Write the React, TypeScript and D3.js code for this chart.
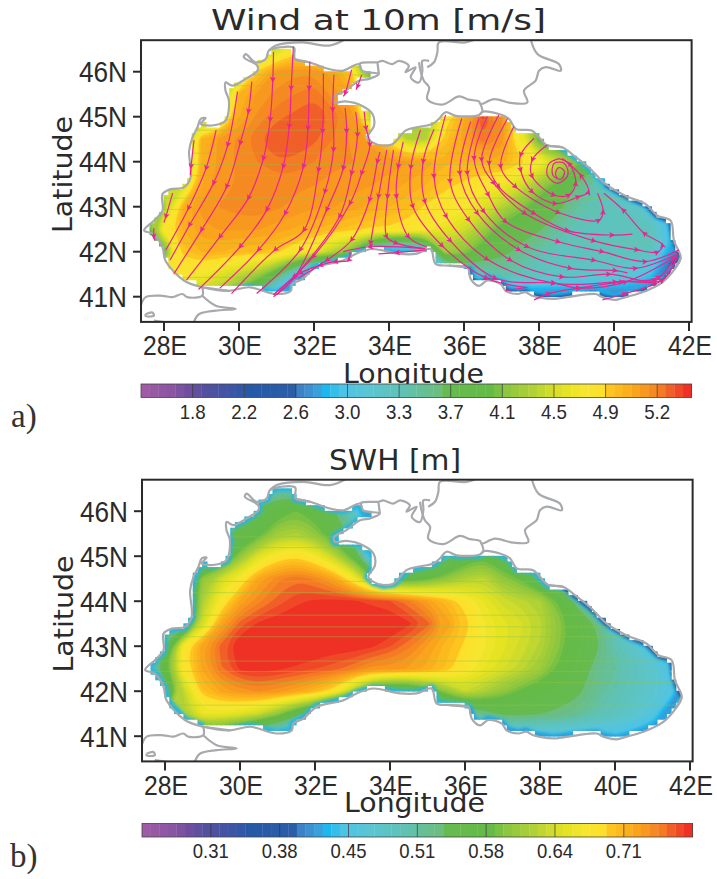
import React from 'react'
import * as d3 from 'd3'

// ---- colour bars ----
const paletteStops: [number, string][] = [
  [0, '#9f5ba5'], [3, '#8a55a3'], [5, '#6f4e9f'], [7, '#5350a0'], [10, '#3d55a5'], [12, '#2558a6'],
  [17, '#2a5ea9'], [18, '#3b82c6'], [20, '#3aa0dc'], [21, '#1cb8ee'], [23, '#4dc4e6'], [26, '#5bc5d2'],
  [30, '#5fc2b4'], [34, '#6bbd80'], [35, '#66bb50'], [40, '#65bb46'], [42, '#8dc63f'], [45, '#b0d236'],
  [47, '#d0dc2c'], [49, '#e6e322'], [51, '#f6e62f'], [53, '#fde02a'], [54, '#fec420'], [56, '#fbaf1c'],
  [58, '#f8981f'], [60, '#f47b24'], [61, '#f15f29'], [63, '#ee3124']
]
const levelCount = 64
const windBarLabels = ['1.8', '2.2', '2.6', '3.0', '3.3', '3.7', '4.1', '4.5', '4.9', '5.2']
const windBarCells = [6, 12, 18, 24, 30, 36, 42, 48, 54, 60]
const swhBarLabels = ['0.31', '0.38', '0.45', '0.51', '0.58', '0.64', '0.71']
const swhBarCells = [8, 16, 24, 32, 40, 48, 56]

// ---- axes ----
const lonTicks = [28, 30, 32, 34, 36, 38, 40, 42]
const latTicks = [46, 45, 44, 43, 42, 41]

// ---- coast sections, lon/lat, running clockwise round the sea ----
const westCoast = [
  [29.02, 41.21], [28.53, 41.36], [28.04, 41.8], [27.96, 42.1], [27.73, 42.39], [27.47, 42.47], [27.73, 42.69],
  [27.96, 42.91], [27.96, 43.28], [28.18, 43.39], [28.53, 43.43], [28.71, 43.65], [28.67, 44.24], [28.76, 44.54],
  [28.89, 44.76], [28.98, 44.95], [29.11, 44.97], [28.98, 44.84], [29.33, 44.81], [29.64, 44.91], [29.73, 45.36],
  [29.64, 45.58], [29.64, 45.76], [29.82, 45.69], [30.18, 45.84], [30.49, 46.02], [30.49, 46.13], [30.13, 46.32],
  [30.18, 46.39], [30.44, 46.21], [30.71, 46.28], [30.8, 46.47], [31.07, 46.54], [31.47, 46.53], [31.48, 46.28]
]
const crimeaCoast = [
  [31.87, 46.21], [32.4, 46.06], [32.76, 46.02], [33.2, 46.17], [33.29, 46.02], [33.73, 45.95], [33.47, 45.84],
  [33.2, 45.8], [32.84, 45.58], [32.51, 45.43], [32.53, 45.32], [32.84, 45.34], [33.29, 45.24], [33.56, 45.06],
  [33.6, 44.8], [33.42, 44.54], [33.56, 44.43], [33.82, 44.36], [34.09, 44.39], [34.44, 44.69], [34.71, 44.76],
  [35.16, 44.84], [35.33, 44.95], [35.51, 45.1], [35.78, 45.02], [36.4, 45.04]
]
const tamanCoast = [
  [36.49, 45.11], [36.93, 45.06], [37.2, 44.95], [37.38, 44.73], [37.82, 44.69], [38, 44.54], [38.22, 44.36]
]
const caucasusCoast = [
  [38.62, 44.32], [38.98, 44.1], [39.33, 43.87], [39.78, 43.5], [40.31, 43.24], [40.84, 43.06], [41.16, 42.8],
  [41.51, 42.69], [41.6, 42.24], [41.78, 41.87]
]
const pontusEastCoast = [
  [41.64, 41.64], [41.29, 41.32], [40.76, 41.1], [40.31, 40.99], [40.04, 40.93], [39.69, 40.99], [39.51, 41.06],
  [38.98, 41.02], [38.36, 40.95], [37.82, 41.02], [37.64, 41.1], [37.42, 41.06], [37.11, 41.13], [36.98, 41.28],
  [36.62, 41.36], [36.4, 41.24], [36.18, 41.39], [36.09, 41.65]
]
const pontusWestCoast = [
  [35.6, 41.69], [35.24, 41.73], [35.11, 42.06], [34.71, 41.95], [34.27, 41.95], [33.56, 42.06], [33.11, 41.95],
  [32.76, 41.8], [32.04, 41.65], [31.69, 41.39], [31.42, 41.28], [31.38, 41.13], [30.98, 41.06], [30.27, 41.21],
  [29.73, 41.13]
]
const seaOutline = [...westCoast, ...crimeaCoast, ...tamanCoast, ...caucasusCoast, ...pontusEastCoast, ...pontusWestCoast]

// land that is not on the Black Sea itself
const landLines = [
  [[27.38, 40.8], [27.51, 40.99], [27.96, 41.02], [28.22, 40.99], [28.49, 41.06], [28.62, 40.99], [29.02, 41.02], [29.02, 41.21]],
  [[29.02, 41.02], [29.38, 40.8], [29.91, 40.73], [29.38, 40.69], [28.93, 40.61], [28.8, 40.44]],
  [[27.51, 40.61], [27.69, 40.65], [27.73, 40.58], [27.51, 40.57], [27.51, 40.61]],
  [[27.73, 40.47], [28.04, 40.43]],
  [[30.8, 46.47], [30.98, 46.58], [31.69, 46.65], [32.4, 46.58], [32.84, 46.72]],
  [[31.48, 46.28], [31.87, 46.21]],
  [[33.2, 46.17], [33.29, 46.2], [33.69, 46.21], [33.82, 46.24], [34.09, 46.17], [34.27, 46.24], [34.53, 46.13], [34.44, 45.99], [34.71, 46.1], [34.58, 45.87], [34.8, 45.76], [34.89, 46.02], [34.89, 46.24], [35.07, 46.24]],
  [[33.73, 45.95], [33.69, 46.21]],
  [[34.8, 46.21], [34.84, 46.02], [34.93, 45.8], [35.07, 45.65], [35.02, 45.39], [35.42, 45.27], [35.87, 45.45], [36.13, 45.38], [36.4, 45.34], [36.44, 45.28], [36.8, 45.39], [37.29, 45.3], [37.69, 45.32], [37.6, 45.58], [37.91, 45.8], [38, 46.02], [38.18, 46.1], [38.58, 46.02], [38.53, 46.17], [37.96, 46.39], [37.78, 46.72]],
  [[35.02, 46.1], [35.2, 46.21], [35.29, 46.43], [35.33, 46.65], [36.04, 46.65], [36.31, 46.72]],
  [[36.44, 45.28], [36.49, 45.11], [36.4, 45.04]],
  [[38.22, 44.36], [38.62, 44.32]],
  [[41.78, 41.87], [41.64, 41.64]],
  [[36.09, 41.65], [35.6, 41.69]],
  [[29.73, 41.13], [29.02, 41.21]]
]

// ---- fields, rows from 46.5N down to 40.5N, columns 27.5E to 42E every half degree ----
const windRows = [
  [3.8, 3.8, 3.8, 3.8, 3.9, 4.0, 4.2, 4.4, 4.75, 4.4, 4.2, 4.0, 3.9, 3.8, 3.8, 3.8, 3.8, 3.8, 3.8, 3.8, 3.8, 3.8, 3.8, 3.8, 3.8, 3.8, 3.8, 3.8, 3.8, 3.8],
  [4.2, 4.2, 4.2, 4.2, 4.2, 4.3, 4.85, 5.1, 5.12, 5.12, 5.05, 4.85, 3.9, 3.7, 3.7, 3.7, 3.7, 3.7, 3.7, 3.7, 3.7, 3.7, 3.7, 3.7, 3.7, 3.7, 3.7, 3.7, 3.7, 3.7],
  [4.2, 4.2, 4.2, 4.2, 4.2, 4.95, 5.1, 5.15, 5.2, 5.25, 5.1, 5.0, 4.4, 4.2, 4.2, 4.2, 4.2, 4.2, 4.2, 4.2, 4.2, 4.2, 4.2, 4.2, 4.2, 4.2, 4.2, 4.2, 4.2, 4.2],
  [4.3, 4.3, 4.3, 4.3, 4.4, 5.0, 5.15, 5.25, 5.28, 5.32, 5.25, 5.12, 4.3, 4.2, 4.2, 4.2, 4.75, 5.0, 5.35, 5.15, 4.6, 4.0, 3.6, 3.4, 3.3, 3.3, 3.3, 3.3, 3.3, 3.3],
  [4.2, 4.2, 4.2, 4.95, 5.1, 5.15, 5.26, 5.3, 5.3, 5.28, 5.2, 5.12, 5.05, 4.75, 4.3, 4.3, 4.85, 5.05, 5.25, 5.12, 4.6, 3.9, 3.6, 3.3, 3.1, 3.0, 3.0, 3.0, 3.0, 3.0],
  [4.0, 4.0, 4.0, 4.95, 5.1, 5.15, 5.2, 5.26, 5.25, 5.2, 5.15, 5.14, 5.12, 5.1, 5.08, 5.05, 4.95, 4.95, 4.95, 5.0, 4.85, 4.7, 4.4, 4.1, 3.8, 3.1, 3.0, 3.0, 3.0, 3.0],
  [4.4, 4.4, 4.4, 5.0, 5.12, 5.14, 5.15, 5.15, 5.15, 5.14, 5.12, 5.1, 5.08, 5.05, 5.0, 4.95, 4.85, 4.8, 4.7, 4.62, 4.45, 4.2, 3.95, 3.6, 3.35, 3.0, 2.8, 2.8, 2.8, 2.8],
  [4.2, 4.2, 4.95, 5.1, 5.14, 5.17, 5.18, 5.15, 5.12, 5.08, 5.08, 5.04, 5.0, 4.95, 4.9, 4.8, 4.75, 4.68, 4.5, 4.3, 4.1, 3.85, 3.7, 3.45, 3.35, 3.3, 3.2, 3.0, 2.8, 2.8],
  [3.8, 4.7, 4.95, 5.05, 5.08, 5.08, 5.08, 5.04, 5.0, 4.95, 4.9, 4.85, 4.8, 4.8, 4.75, 4.68, 4.55, 4.42, 4.2, 3.9, 3.75, 3.65, 3.45, 3.3, 3.3, 3.3, 3.3, 3.3, 2.9, 2.7],
  [3.9, 3.9, 4.85, 4.95, 4.95, 4.9, 4.9, 4.85, 4.7, 4.55, 4.3, 4.0, 3.1, 2.7, 2.7, 3.0, 4.2, 4.1, 3.85, 3.7, 3.55, 3.4, 3.3, 3.3, 3.3, 3.3, 3.3, 3.25, 2.7, 2.5],
  [4.7, 4.7, 4.7, 4.65, 4.5, 4.35, 4.2, 3.8, 3.0, 2.4, 2.3, 2.3, 2.3, 2.3, 2.3, 2.6, 3.0, 3.2, 3.3, 3.4, 3.35, 3.25, 3.2, 3.2, 3.15, 3.1, 3.05, 2.85, 2.3, 2.2],
  [4.3, 4.3, 4.3, 4.3, 4.2, 3.9, 3.3, 2.4, 2.0, 2.0, 2.0, 2.0, 2.0, 2.0, 2.0, 2.0, 2.2, 2.3, 2.4, 2.5, 2.5, 2.5, 2.5, 2.5, 2.5, 2.5, 2.5, 2.4, 2.2, 2.0],
  [4.2, 4.2, 4.2, 4.2, 4.0, 3.5, 2.8, 2.2, 2.0, 2.0, 2.0, 2.0, 2.0, 2.0, 2.0, 2.0, 2.0, 2.0, 2.0, 2.0, 2.0, 2.0, 2.0, 2.0, 2.0, 2.0, 2.0, 2.0, 2.0, 2.0]
]
const swhRows = [
  [0.45, 0.45, 0.45, 0.45, 0.45, 0.45, 0.47, 0.5, 0.5, 0.47, 0.45, 0.4, 0.35, 0.32, 0.32, 0.32, 0.32, 0.32, 0.32, 0.32, 0.32, 0.32, 0.32, 0.32, 0.32, 0.32, 0.32, 0.32, 0.32, 0.32],
  [0.5, 0.5, 0.5, 0.5, 0.5, 0.52, 0.55, 0.57, 0.585, 0.57, 0.54, 0.48, 0.35, 0.32, 0.32, 0.32, 0.32, 0.32, 0.32, 0.32, 0.32, 0.32, 0.32, 0.32, 0.32, 0.32, 0.32, 0.32, 0.32, 0.32],
  [0.5, 0.5, 0.5, 0.5, 0.52, 0.55, 0.575, 0.61, 0.62, 0.6, 0.56, 0.52, 0.42, 0.36, 0.34, 0.34, 0.34, 0.34, 0.34, 0.34, 0.34, 0.34, 0.34, 0.34, 0.34, 0.34, 0.34, 0.34, 0.34, 0.34],
  [0.5, 0.5, 0.5, 0.5, 0.53, 0.6, 0.65, 0.68, 0.69, 0.67, 0.63, 0.575, 0.42, 0.42, 0.45, 0.48, 0.52, 0.56, 0.58, 0.55, 0.5, 0.45, 0.42, 0.4, 0.4, 0.4, 0.4, 0.4, 0.4, 0.4],
  [0.52, 0.52, 0.52, 0.6, 0.64, 0.675, 0.72, 0.74, 0.75, 0.74, 0.72, 0.675, 0.6, 0.57, 0.56, 0.58, 0.6, 0.62, 0.63, 0.6, 0.58, 0.54, 0.5, 0.46, 0.44, 0.42, 0.42, 0.42, 0.42, 0.42],
  [0.5, 0.5, 0.5, 0.62, 0.675, 0.72, 0.74, 0.755, 0.765, 0.77, 0.772, 0.77, 0.765, 0.76, 0.745, 0.725, 0.705, 0.685, 0.66, 0.64, 0.63, 0.62, 0.58, 0.52, 0.47, 0.44, 0.42, 0.42, 0.42, 0.42],
  [0.5, 0.5, 0.5, 0.64, 0.72, 0.755, 0.77, 0.775, 0.78, 0.78, 0.78, 0.78, 0.78, 0.78, 0.77, 0.755, 0.725, 0.7, 0.67, 0.655, 0.645, 0.63, 0.6, 0.565, 0.53, 0.47, 0.43, 0.42, 0.42, 0.42],
  [0.5, 0.54, 0.68, 0.725, 0.755, 0.78, 0.785, 0.785, 0.785, 0.78, 0.775, 0.775, 0.77, 0.76, 0.745, 0.725, 0.705, 0.69, 0.67, 0.655, 0.64, 0.625, 0.595, 0.56, 0.54, 0.5, 0.47, 0.43, 0.4, 0.4],
  [0.45, 0.58, 0.68, 0.72, 0.75, 0.77, 0.775, 0.77, 0.765, 0.76, 0.755, 0.745, 0.73, 0.73, 0.725, 0.715, 0.7, 0.68, 0.66, 0.645, 0.63, 0.61, 0.58, 0.555, 0.525, 0.51, 0.49, 0.47, 0.44, 0.38],
  [0.5, 0.5, 0.63, 0.7, 0.72, 0.73, 0.735, 0.73, 0.72, 0.705, 0.68, 0.62, 0.54, 0.52, 0.52, 0.56, 0.6, 0.635, 0.62, 0.6, 0.58, 0.565, 0.55, 0.54, 0.52, 0.5, 0.485, 0.47, 0.45, 0.35],
  [0.62, 0.62, 0.62, 0.66, 0.66, 0.65, 0.635, 0.6, 0.55, 0.5, 0.42, 0.42, 0.42, 0.42, 0.42, 0.45, 0.48, 0.5, 0.52, 0.54, 0.54, 0.535, 0.53, 0.52, 0.5, 0.49, 0.47, 0.45, 0.38, 0.35],
  [0.55, 0.55, 0.55, 0.55, 0.54, 0.5, 0.46, 0.44, 0.42, 0.42, 0.42, 0.42, 0.42, 0.42, 0.42, 0.42, 0.42, 0.43, 0.44, 0.44, 0.44, 0.44, 0.44, 0.43, 0.43, 0.43, 0.42, 0.4, 0.36, 0.34],
  [0.5, 0.5, 0.5, 0.5, 0.48, 0.45, 0.42, 0.4, 0.4, 0.4, 0.4, 0.4, 0.4, 0.4, 0.4, 0.4, 0.4, 0.4, 0.4, 0.4, 0.4, 0.4, 0.4, 0.4, 0.38, 0.36, 0.36, 0.36, 0.34, 0.34]
]

// streamlines of the mean wind, each listed downstream
const streamlines = [
  [[30.92, 46.44], [30.9, 45.81], [30.83, 44.93], [30.65, 44.07], [30.25, 43.19], [29.49, 42.33], [28.6, 41.37]],
  [[31.45, 46.56], [31.39, 45.63], [31.34, 44.78], [31.18, 43.89], [30.74, 42.93], [30.03, 42.11], [28.92, 41.16]],
  [[31.89, 46.22], [31.87, 45.63], [31.84, 44.74], [31.72, 43.89], [31.23, 42.85], [30.52, 42.04], [29.49, 41.19]],
  [[32.25, 45.96], [32.23, 44.67], [32.12, 43.81], [31.73, 42.48], [30.96, 42.04], [29.8, 41.07]],
  [[32.53, 45.93], [32.5, 45.15], [32.52, 44.26], [32.29, 43.33], [31.63, 42.04], [30.47, 41.07]],
  [[33, 46.04], [32.83, 45.52], [32.78, 45.45]],
  [[33.27, 45.93], [33.16, 45.67], [33.12, 45.6]],
  [[32.83, 45.19], [32.87, 44.67], [32.78, 43.85], [32.34, 42.93], [31.49, 41.44], [30.92, 41]],
  [[33.11, 45.11], [33.16, 44.59], [33, 43.74], [32.68, 42.78], [31.45, 41.41], [31, 41.04]],
  [[33.34, 45.11], [33.39, 44.74], [33.49, 44.37], [33.27, 43.74], [32.96, 43.07], [31.98, 41.89], [30.92, 41.04]],
  [[30.34, 45.78], [30.25, 45.11], [30.03, 44.41], [29.67, 43.44], [29, 42.48], [28.27, 41.52]],
  [[29.96, 45.56], [29.7, 44.37], [29.32, 43.52], [28.68, 42.59], [28.16, 41.81]],
  [[29.39, 44.7], [29.12, 43.85], [28.65, 42.96], [28.05, 42.04]],
  [[28.8, 44.48], [28.72, 43.89], [28.7, 43.7]],
  [[28.23, 43.3], [28.05, 42.78], [28, 42.65]],
  [[27.73, 42.52], [27.73, 42.33], [27.75, 42.25]],
  [[33.76, 44.22], [33.69, 44], [33.48, 43.15], [33, 42.26], [32.34, 41.81], [31.58, 41.41]],
  [[33.94, 44.26], [33.72, 43.22], [33.51, 42.19], [33.5, 42.1]],
  [[34.12, 44.26], [33.96, 43.22], [33.94, 42.33], [34.2, 42.19], [34.92, 42.07]],
  [[34.38, 44.44], [34.25, 43.89], [34.2, 43.22], [34.52, 42.33], [35, 42.11]],
  [[35, 42.04], [34.2, 41.98], [33.72, 41.95]],
  [[32.96, 42], [32.92, 41.81], [32.56, 41.78], [32.16, 41.7], [31.63, 41.52], [30.92, 41.04]],
  [[34.96, 42.07], [33.49, 42.11], [32.78, 42]],
  [[34.84, 44.7], [34.58, 43.87], [34.64, 43], [35.42, 42.13], [36.6, 41.41], [37.64, 41.21]],
  [[35.2, 44.72], [34.91, 44], [34.96, 43.11], [35.64, 42.24], [36.84, 41.41], [38.4, 41.3], [39.07, 41.19], [40.31, 41.33], [41.64, 41.89]],
  [[35.51, 45.04], [35.2, 43.67], [35.53, 42.78], [36.62, 41.83], [38.4, 41.3], [40.04, 41.33], [41.2, 41.44], [41.69, 41.96]],
  [[35.94, 44.96], [35.63, 43.56], [36.13, 42.7], [37.24, 41.81], [38.62, 41.44], [39.87, 41.5], [41.11, 41.37], [41.64, 41.89]],
  [[36.18, 44.89], [35.89, 43.74], [36.36, 42.85], [37.47, 42.04], [38.84, 41.63], [40.04, 41.58], [40.36, 41.53]],
  [[36.4, 44.96], [36.09, 43.74], [36.53, 42.89], [37.69, 42.11], [39.47, 41.81], [40.58, 41.63], [41.73, 41.96]],
  [[36.62, 45], [36.27, 44.07], [36.65, 43.26], [37.11, 42.67], [38.52, 42.22], [39.69, 42], [40.84, 41.78], [41.73, 42.04]],
  [[36.93, 45.04], [36.47, 44.04], [36.8, 43.52], [37.63, 42.85], [39.47, 42.24], [40.62, 42.04], [41.16, 41.99], [41.29, 42.15], [40.8, 42.41], [40.24, 42.93], [39.73, 43.3]],
  [[37.16, 44.96], [36.67, 43.96], [36.93, 43.44], [37.87, 42.85], [38.76, 42.47], [39.96, 42.37], [40.49, 42.39]],
  [[37.33, 44.78], [36.98, 43.89], [37.38, 43.44], [38.52, 42.87], [39.6, 42.7], [39.71, 42.89], [39.56, 43.3]],
  [[37.87, 44.52], [37.51, 44.15], [37.51, 43.81], [37.82, 43.33], [38.44, 43.07], [39.05, 43.22], [39.32, 43.33], [39.11, 43.7], [38.62, 44.07]],
  [[38.22, 44.37], [37.82, 44.04], [37.82, 43.67], [38.4, 43.26], [38.8, 43.26], [38.98, 43.52], [38.8, 43.96], [38.53, 44.07]],
  [[37.87, 40.93], [38.27, 41.07], [39.07, 41.19], [40.22, 41.33], [41.29, 41.37], [41.69, 41.89]],
  [[39.69, 40.93], [40.31, 41.07], [41.29, 41.37], [41.69, 41.89]],
  [[37.11, 41.13], [37.69, 41.21]]
]
// the inner coils of the eddy carry no arrowheads
const eddyCoil = [
  [38.53, 44.07], [38.27, 43.96], [38.22, 43.7], [38.49, 43.52], [38.77, 43.7], [38.68, 43.96], [38.4, 43.96], [38.37, 43.7],
  [38.58, 43.61], [38.68, 43.78], [38.53, 43.87], [38.44, 43.74], [38.49, 43.63]
]

// faint rendering seams across the field, by latitude
const windSeams = [45.93, 45.69, 44.93, 44.7, 44.19, 43.94, 43.69, 43.19, 42.94, 42.19, 41.43]
const swhSeams = [45.43, 45.19, 44.44, 44.19, 43.69, 43.43, 43.21, 42.67, 42.44, 42.19, 41.69]

const columnCount = 30
const rowCount = 13
const cellDeg = 0.125

// one map frame shared by both panels (panel b is shifted down)
const x = d3.scaleLinear().domain([28, 42]).range([164, 689])
const y = d3.scaleLinear().domain([46, 41]).range([71.7, 296.7])
const frameLon = [27.387, 42.07]
const frameLat = [46.7, 40.44]

const paletteScale = d3
  .scaleLinear<string>()
  .domain(paletteStops.map(d => d[0]))
  .range(paletteStops.map(d => d[1]))
const palette = d3.range(levelCount).map(i => paletteScale(i))

const seaCells: number[][] = []
for (let lon = 27.25; lon < 42; lon += cellDeg) {
  for (let lat = 40.75; lat < 46.75; lat += cellDeg) {
    const corners = [[lon, lat], [lon + cellDeg, lat], [lon, lat + cellDeg], [lon + cellDeg, lat + cellDeg]]
    if (corners.filter(c => d3.polygonContains(seaOutline as any, c as any)).length >= 3) seaCells.push([lon, lat])
  }
}

const geoLine = d3.line<number[]>().x(d => x(d[0])).y(d => y(d[1]))
const coastLine = d3.line<number[]>().x(d => x(d[0])).y(d => y(d[1])).curve(d3.curveCatmullRom.alpha(0.5))
const coastRing = d3.line<number[]>().x(d => x(d[0])).y(d => y(d[1])).curve(d3.curveCatmullRomClosed.alpha(0.5))
const flowLine = d3.line<number[]>().x(d => x(d[0])).y(d => y(d[1])).curve(d3.curveCatmullRom.alpha(0.5))
const ringLine = d3.line<number[]>().curve(d3.curveBasisClosed)
  .x(d => x(27.5 + (d[0] - 0.5) * 0.5))
  .y(d => y(46.5 - (d[1] - 0.5) * 0.5))

const Field = ({ rows, levels }: { rows: number[][]; levels: number[] }) => {
  const shapes = d3.contours().size([columnCount, rowCount]).thresholds(levels)(rows.flat())
  return (
    <g>
      {shapes.map((shape, i) => (
        <path
          key={i}
          fill={palette[i]}
          stroke={palette[i]}
          strokeWidth={0.4}
          d={shape.coordinates.map(poly => poly.map(ring => ringLine(ring.slice(0, -1))).join('')).join('')}
        />
      ))}
    </g>
  )
}

type RimStroke = { coast: number[][]; color: string; width: number; blur: string }

type PanelProps = {
  id: string
  dy: number
  title: string
  titleX: number
  titleLength: number
  lonLabelY: number
  rows: number[][]
  levels: number[]
  rims: RimStroke[]
  seams: number[]
  seamColor: string
  barCells: number[]
  barLabels: string[]
  barLabelLength: number
  children?: React.ReactNode
}

const sans = "'Liberation Sans', sans-serif"
const wide = "'DejaVu Sans', sans-serif"
const ink = '#2a2a2a'

const Panel = (p: PanelProps) => {
  const left = x(frameLon[0])
  const right = x(frameLon[1])
  const top = y(frameLat[0])
  const bottom = y(frameLat[1])
  const bar = d3.scaleLinear().domain([0, levelCount]).range([left, right])
  return (
    <g transform={`translate(${p.dy ? 1 : 0},${p.dy})`}>
      <defs>
        <clipPath id={`${p.id}-sea`}>
          {seaCells.map(c => (
            <rect key={c.join()} x={x(c[0]) - 0.4} y={y(c[1] + cellDeg) - 0.4} width={x(c[0] + cellDeg) - x(c[0]) + 0.8} height={y(c[1]) - y(c[1] + cellDeg) + 0.8} />
          ))}
        </clipPath>
        <clipPath id={`${p.id}-frame`}>
          <rect x={left} y={top} width={right - left} height={bottom - top} />
        </clipPath>
        <filter id={`${p.id}-soft`} x="-10%" y="-10%" width="120%" height="120%">
          <feGaussianBlur stdDeviation="1.6" />
        </filter>
      </defs>

      <g clipPath={`url(#${p.id}-sea)`}>
        <rect x={left} y={top} width={right - left} height={bottom - top} fill={palette[14]} />
        <Field rows={p.rows} levels={p.levels} />
        {p.rims.map((r, i) => (
          <path key={i} d={geoLine(r.coast) ?? ''} fill="none" stroke={r.color} strokeWidth={r.width} strokeLinejoin="round" filter={`url(#${p.id}-${r.blur})`} />
        ))}
        {p.seams.map(lat => (
          <line key={lat} x1={left} x2={right} y1={y(lat)} y2={y(lat)} stroke={p.seamColor} strokeWidth={1} opacity={0.45} />
        ))}
      </g>

      <g clipPath={`url(#${p.id}-frame)`} fill="none" stroke="#a7a9ac" strokeWidth={2.2} strokeLinejoin="round">
        <path d={coastRing(seaOutline) ?? ''} />
        {landLines.map((l, i) => (
          <path key={i} d={coastLine(l) ?? ''} />
        ))}
        {p.children}
      </g>

      <rect x={left} y={top} width={right - left} height={bottom - top} fill="none" stroke={ink} strokeWidth={2} />
      {lonTicks.map(t => (
        <g key={t}>
          <line x1={x(t)} x2={x(t)} y1={bottom} y2={bottom + 9} stroke={ink} strokeWidth={2} />
          <text x={x(t) + 1} y={355} textAnchor="middle" fontFamily={sans} fontSize={28} fill={ink} textLength={44} lengthAdjust="spacingAndGlyphs">
            {t}E
          </text>
        </g>
      ))}
      {latTicks.map(t => (
        <g key={t}>
          <line x1={left - 8} x2={left} y1={y(t)} y2={y(t)} stroke={ink} strokeWidth={2} />
          <text x={127} y={y(t) + 10.5} textAnchor="end" fontFamily={sans} fontSize={29} fill={ink} textLength={48} lengthAdjust="spacingAndGlyphs">
            {t}N
          </text>
        </g>
      ))}

      <text x={p.titleX} y={30} textAnchor="middle" fontFamily={wide} fontSize={29} fill={ink} textLength={p.titleLength} lengthAdjust="spacingAndGlyphs">
        {p.title}
      </text>
      <text x={413.5} y={p.lonLabelY} textAnchor="middle" fontFamily={wide} fontSize={27} fill={ink} textLength={141} lengthAdjust="spacingAndGlyphs">
        Longitude
      </text>
      <text transform="translate(72,174.5) rotate(-90)" textAnchor="middle" fontFamily={wide} fontSize={27} fill={ink} textLength={117} lengthAdjust="spacingAndGlyphs">
        Latitude
      </text>

      {palette.map((c, i) => (
        <rect key={i} x={bar(i)} y={384} width={bar(i + 1) - bar(i) + 0.3} height={13.5} fill={c} />
      ))}
      <rect x={left} y={384} width={right - left} height={13.5} fill="none" stroke="#444" strokeWidth={0.8} />
      {p.barCells.map((cell, i) => (
        <g key={cell}>
          <line x1={bar(cell)} x2={bar(cell)} y1={384} y2={397.5} stroke="#333" strokeWidth={0.7} />
          <text x={bar(cell)} y={418.5} textAnchor="middle" fontFamily={sans} fontSize={21} fill={ink} textLength={p.barLabelLength} lengthAdjust="spacingAndGlyphs">
            {p.barLabels[i]}
          </text>
        </g>
      ))}
    </g>
  )
}

const windLevels = palette.map((_, i) => 1.42 + i * 0.063)
const swhLevels = palette.map((_, i) => 0.2433 + i * 0.00833)

const App = () => (
  <svg width={717} height={879} style={{ position: 'absolute', left: 0, top: 0, background: '#fff' }}>
    <defs>
      <marker id="flow-arrow" viewBox="0 0 10 10" refX="6" refY="5" markerWidth="6.5" markerHeight="6.5" markerUnits="userSpaceOnUse" orient="auto">
        <path d="M1 0.5 L10 5 L1 9.5 L3 5 Z" fill="#e9258f" />
      </marker>
    </defs>
    <Panel
      id="wind"
      dy={0}
      title="Wind at 10m [m/s]"
      titleX={378.5}
      titleLength={335}
      lonLabelY={383}
      rows={windRows}
      levels={windLevels}
      rims={[
        { coast: caucasusCoast, color: '#1cb8ee', width: 7, blur: 'soft' },
        { coast: pontusEastCoast, color: '#1cb8ee', width: 13, blur: 'soft' },
        { coast: pontusEastCoast, color: '#2558a6', width: 6, blur: 'soft' },
        { coast: caucasusCoast.slice(3), color: '#2558a6', width: 5, blur: 'soft' },
        { coast: pontusWestCoast.slice(3), color: '#1cb8ee', width: 7, blur: 'soft' }
      ]}
      seams={windSeams}
      seamColor="#8fc640"
      barCells={windBarCells}
      barLabels={windBarLabels}
      barLabelLength={26}
    >
      <g stroke="#e9258f" strokeWidth={1.2}>
        {streamlines.map((s, i) => (
          <path key={i} d={flowLine(s) ?? ''} markerMid="url(#flow-arrow)" />
        ))}
        <path d={flowLine(eddyCoil) ?? ''} />
      </g>
    </Panel>
    <Panel
      id="swh"
      dy={439.5}
      title="SWH [m]"
      titleX={394}
      titleLength={132}
      lonLabelY={372.5}
      rows={swhRows}
      levels={swhLevels}
      rims={[
        { coast: seaOutline, color: '#2bb6dc', width: 8, blur: 'soft' },
        { coast: caucasusCoast, color: '#2558a6', width: 5, blur: 'soft' },
        { coast: pontusEastCoast, color: '#2aa0e0', width: 7, blur: 'soft' }
      ]}
      seams={swhSeams}
      seamColor="#8fc640"
      barCells={swhBarCells}
      barLabels={swhBarLabels}
      barLabelLength={36}
    />
    <text x={11} y={427} fontFamily="'Liberation Serif', serif" fontSize={33} fill="#333">a)</text>
    <text x={10} y={867} fontFamily="'Liberation Serif', serif" fontSize={33} fill="#333">b)</text>
  </svg>
)

export default App
